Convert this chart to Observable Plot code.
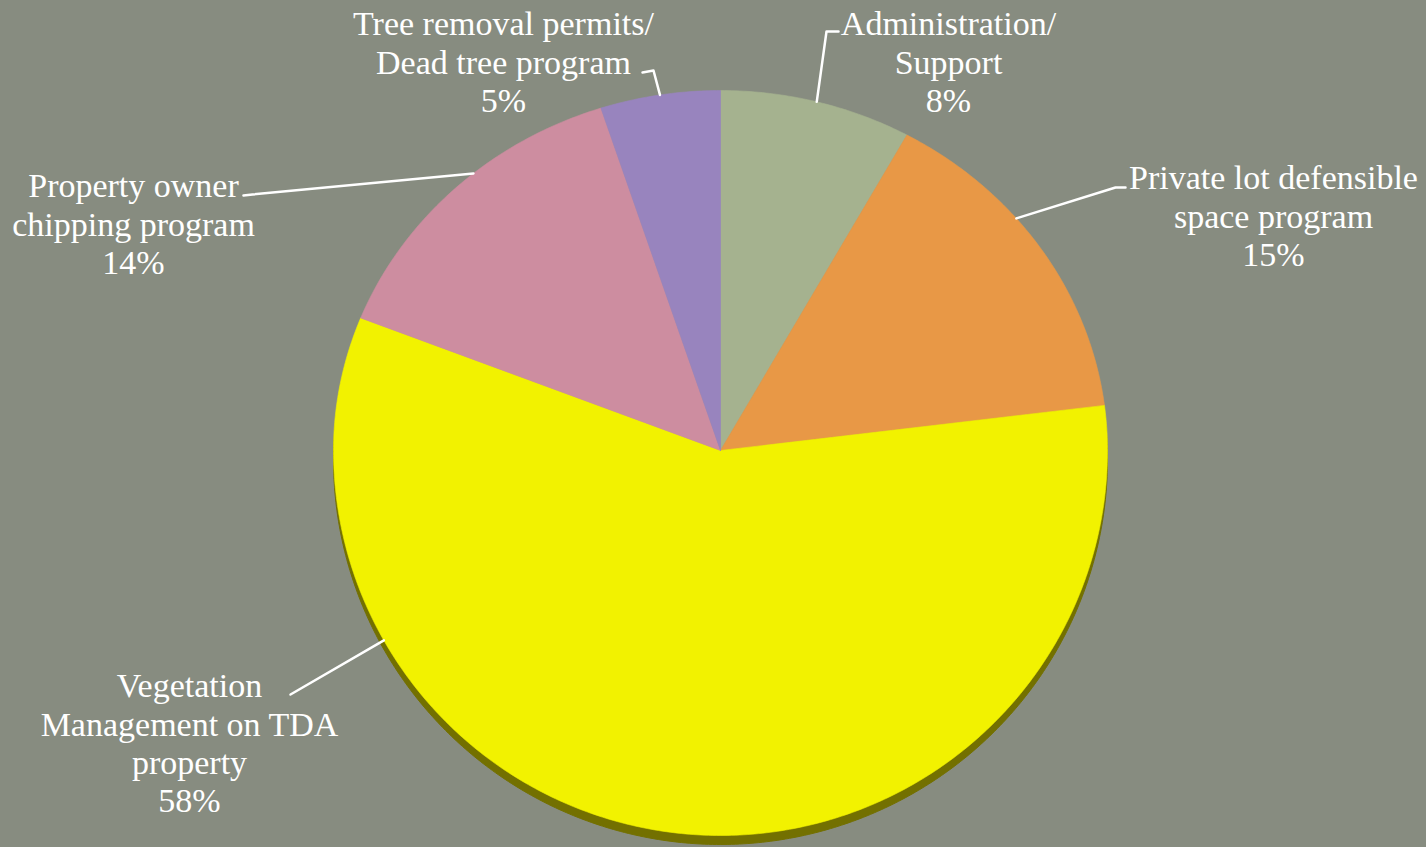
<!DOCTYPE html>
<html><head><meta charset="utf-8">
<script src="https://cdn.jsdelivr.net/npm/d3@7"></script>
<script src="https://cdn.jsdelivr.net/npm/@observablehq/plot@0.6"></script>
<style>
html,body{margin:0;padding:0;background:#878c80;overflow:hidden}
#chart svg{display:block}
</style></head><body><div id="chart"></div>
<script>
// ---- data ----
const categories = [
  "Administration/\nSupport",
  "Private lot defensible\nspace program",
  "Vegetation\nManagement on TDA\nproperty",
  "Property owner\nchipping program",
  "Tree removal permits/\nDead tree program"
];
const values = [8, 15, 58, 14, 5];
const colors = ["#a5b28f", "#e89846", "#f2f200", "#cd8da0", "#9884be"];

// ---- layout (positions/styles) ----
const W = 1426, H = 847;
const cx = 720, cy = 450, rx = 387, ryFar = 360, ryNear = 385, depth = 9;
const shadowColor = "#737000";
const labelLayout = [
  {x: 948, y: 61, path: [[838, 31], [826, 31]], t: 0.5},
  {x: 1273, y: 215, path: [[1125, 187], [1115, 187]], t: 0.39},
  {x: 189, y: 742, path: [[290, 694]], t: 0.755},
  {x: 133, y: 223, path: [[243, 195], [252, 194]], t: 0.57},
  {x: 503, y: 61, path: [[642, 72], [653, 70]], t: 0.5}
];

const pie = d3.pie().sort(null).value(d => d)(values);
function rim(a) {
  const c = Math.cos(a);
  return [cx + rx * Math.sin(a), cy - (c >= 0 ? ryFar : ryNear) * c];
}
const slices = [];
pie.forEach((p, i) => {
  const key = categories[i];
  const n = Math.max(8, Math.ceil((p.endAngle - p.startAngle) / 0.01));
  slices.push({key, x: cx, y: cy});
  for (let k = 0; k <= n; k++) {
    const a = p.startAngle + (p.endAngle - p.startAngle) * k / n;
    const [x, y] = rim(a);
    slices.push({key, x, y});
  }
  slices.push({key, x: cx, y: cy});
});
// side wall: largest (front) slice extruded downward
const front = categories[values.indexOf(d3.max(values))];
const shadow = slices.filter(d => d.key === front).map(d => ({x: d.x, y: d.y + depth}));

const leaders = [];
const labels = [];
pie.forEach((p, i) => {
  const L = labelLayout[i];
  const key = categories[i];
  L.path.forEach(([x, y]) => leaders.push({key, x, y}));
  const a = p.startAngle + (p.endAngle - p.startAngle) * L.t;
  const [x, y] = rim(a);
  leaders.push({key, x, y});
  labels.push({x: L.x, y: L.y, text: key + "\n" + values[i] + "%"});
});

const chart = Plot.plot({
  width: W, height: H,
  margin: 0,
  style: {background: "#878c80", overflow: "visible"},
  x: {domain: [0, W], range: [0, W], axis: null},
  y: {domain: [0, H], range: [0, H], axis: null},
  color: {domain: categories, range: colors},
  marks: [
    Plot.line(shadow, {x: "x", y: "y", fill: shadowColor, stroke: shadowColor, strokeWidth: 1}),
    Plot.line(slices, {x: "x", y: "y", z: "key", fill: "key", stroke: "key", strokeWidth: 0.6}),
    Plot.line(leaders, {x: "x", y: "y", z: "key", stroke: "white", strokeWidth: 2.5}),
    Plot.text(labels, {x: "x", y: "y", text: "text", fill: "white", fontSize: 34,
      lineHeight: 1.13, fontFamily: "Liberation Serif", textAnchor: "middle", lineAnchor: "middle"})
  ]
});
document.getElementById("chart").appendChild(chart);
</script>
</body></html>
